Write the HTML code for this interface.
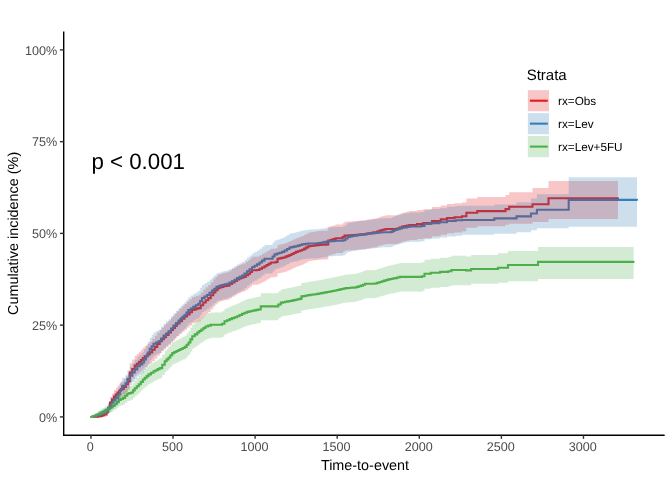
<!DOCTYPE html>
<html lang="en"><head><meta charset="utf-8"><title>Cumulative incidence</title>
<style>
html,body{margin:0;padding:0;background:#fff}
body{width:672px;height:480px;position:relative;overflow:hidden;font-family:"Liberation Sans",sans-serif}
svg text{font-family:"Liberation Sans",sans-serif;text-rendering:geometricPrecision}
.tk{font-size:12.6px;fill:#4D4D4D}
.ti{font-size:14.4px;fill:#000}
.lt{font-size:15px;fill:#000}
.lg{font-size:11.73px;fill:#000}
.pv{font-size:22.3px;fill:#000}
</style></head><body>
<svg width="672" height="480" viewBox="0 0 672 480" style="position:absolute;left:0;top:0;will-change:transform">
<path d="M91.50 416.90 L93.75 416.90 L93.75 416.75 L96.00 416.75 L96.00 416.60 L98.25 416.60 L98.25 416.30 L100.50 416.30 L100.50 416.00 L102.25 416.00 L102.25 415.25 L104.00 415.25 L104.00 414.50 L106.30 414.50 L106.30 412.50 L108.00 412.50 L108.00 408.50 L110.00 408.50 L110.00 402.50 L112.00 402.50 L112.00 399.50 L114.00 399.50 L114.00 396.50 L115.80 396.50 L115.80 394.50 L117.60 394.50 L117.60 392.50 L119.30 392.50 L119.30 390.75 L121.00 390.75 L121.00 389.00 L123.80 389.00 L123.80 387.00 L125.90 387.00 L125.90 384.25 L128.00 384.25 L128.00 381.50 L129.75 381.50 L129.75 372.50 L132.25 372.50 L132.25 369.05 L134.75 369.05 L134.75 365.60 L136.83 365.60 L136.83 363.73 L138.92 363.73 L138.92 361.87 L141.00 361.87 L141.00 360.00 L142.88 360.00 L142.88 358.12 L144.75 358.12 L144.75 356.25 L147.25 356.25 L147.25 354.38 L149.75 354.38 L149.75 352.50 L152.25 352.50 L152.25 349.70 L154.75 349.70 L154.75 346.90 L157.25 346.90 L157.25 344.07 L159.75 344.07 L159.75 341.25 L161.83 341.25 L161.83 339.17 L163.92 339.17 L163.92 337.08 L166.00 337.08 L166.00 335.00 L168.50 335.00 L168.50 332.50 L171.00 332.50 L171.00 330.00 L173.00 330.00 L173.00 327.83 L175.00 327.83 L175.00 325.67 L177.00 325.67 L177.00 323.50 L179.50 323.50 L179.50 321.12 L182.00 321.12 L182.00 318.75 L184.50 318.75 L184.50 316.57 L187.00 316.57 L187.00 314.40 L189.50 314.40 L189.50 312.20 L192.00 312.20 L192.00 310.00 L194.08 310.00 L194.08 309.37 L196.17 309.37 L196.17 308.73 L198.25 308.73 L198.25 308.10 L200.75 308.10 L200.75 305.30 L203.25 305.30 L203.25 302.50 L205.75 302.50 L205.75 300.30 L208.25 300.30 L208.25 298.10 L210.75 298.10 L210.75 295.30 L213.25 295.30 L213.25 292.50 L215.43 292.50 L215.43 290.30 L217.60 290.30 L217.60 288.10 L219.48 288.10 L219.48 287.48 L221.37 287.48 L221.37 286.87 L223.25 286.87 L223.25 286.25 L225.12 286.25 L225.12 285.93 L227.00 285.93 L227.00 285.60 L229.50 285.60 L229.50 284.05 L232.00 284.05 L232.00 282.50 L234.50 282.50 L234.50 280.95 L237.00 280.95 L237.00 279.40 L239.08 279.40 L239.08 278.57 L241.17 278.57 L241.17 277.73 L243.25 277.73 L243.25 276.90 L245.75 276.90 L245.75 275.32 L248.25 275.32 L248.25 273.75 L250.12 273.75 L250.12 272.02 L252.00 272.02 L252.00 270.30 L257.00 270.30 L257.00 270.00 L259.50 270.00 L259.50 268.75 L262.00 268.75 L262.00 267.50 L264.50 267.50 L264.50 266.25 L266.58 266.25 L266.58 265.00 L268.67 265.00 L268.67 263.75 L270.75 263.75 L270.75 262.50 L275.75 262.50 L275.75 261.90 L277.60 261.90 L277.60 258.75 L279.48 258.75 L279.48 258.33 L281.37 258.33 L281.37 257.92 L283.25 257.92 L283.25 257.50 L285.33 257.50 L285.33 256.67 L287.42 256.67 L287.42 255.83 L289.50 255.83 L289.50 255.00 L291.58 255.00 L291.58 253.97 L293.67 253.97 L293.67 252.93 L295.75 252.93 L295.75 251.90 L297.83 251.90 L297.83 251.18 L299.92 251.18 L299.92 250.47 L302.00 250.47 L302.00 249.75 L304.08 249.75 L304.08 248.58 L306.17 248.58 L306.17 247.42 L308.25 247.42 L308.25 246.25 L310.33 246.25 L310.33 245.97 L312.42 245.97 L312.42 245.68 L314.50 245.68 L314.50 245.40 L316.58 245.40 L316.58 245.13 L318.67 245.13 L318.67 244.87 L320.75 244.87 L320.75 244.60 L326.40 244.60 L326.40 244.40 L328.25 244.40 L328.25 240.60 L330.75 240.60 L330.75 239.80 L333.25 239.80 L333.25 239.00 L335.75 239.00 L335.75 238.20 L340.75 238.20 L340.75 238.30 L342.62 238.30 L342.62 236.95 L344.50 236.95 L344.50 235.60 L346.50 235.60 L346.50 235.48 L348.50 235.48 L348.50 235.36 L350.50 235.36 L350.50 235.24 L352.50 235.24 L352.50 235.12 L354.50 235.12 L354.50 235.00 L356.50 235.00 L356.50 234.80 L358.50 234.80 L358.50 234.60 L360.50 234.60 L360.50 234.40 L362.50 234.40 L362.50 234.20 L364.50 234.20 L364.50 234.00 L366.50 234.00 L366.50 233.65 L368.50 233.65 L368.50 233.30 L370.50 233.30 L370.50 232.95 L372.50 232.95 L372.50 232.60 L374.50 232.60 L374.50 232.25 L377.00 232.25 L377.00 231.43 L379.50 231.43 L379.50 230.60 L381.58 230.60 L381.58 230.07 L383.67 230.07 L383.67 229.53 L385.75 229.53 L385.75 229.00 L397.00 229.00 L397.00 228.50 L399.50 228.50 L399.50 227.50 L402.00 227.50 L402.00 226.50 L404.50 226.50 L404.50 226.00 L407.00 226.00 L407.00 225.50 L409.50 225.50 L409.50 225.00 L417.00 225.00 L417.00 224.00 L423.25 224.00 L423.25 223.10 L432.00 223.10 L432.00 221.00 L440.75 221.00 L440.75 219.40 L447.00 219.40 L447.00 218.10 L454.50 218.10 L454.50 217.25 L462.00 217.25 L462.00 216.25 L466.40 216.25 L466.40 212.75 L477.25 212.75 L477.25 211.10 L505.50 211.10 L505.50 209.10 L509.20 209.10 L509.20 206.75 L532.50 206.75 L532.50 204.30 L548.50 204.30 L548.50 198.20 L618.00 198.20 L618.00 198.20" fill="none" stroke="#E41A1C" stroke-width="2.10" stroke-linejoin="miter" stroke-linecap="round"/>
<path d="M91.50 416.90 L93.67 416.90 L93.67 416.27 L95.83 416.27 L95.83 415.63 L98.00 415.63 L98.00 415.00 L100.23 415.00 L100.23 413.90 L102.47 413.90 L102.47 412.80 L104.70 412.80 L104.70 411.70 L108.00 411.70 L108.00 407.50 L111.30 407.50 L111.30 402.50 L113.40 402.50 L113.40 400.20 L115.50 400.20 L115.50 397.90 L118.40 397.90 L118.40 394.20 L120.00 394.20 L120.00 390.00 L122.20 390.00 L122.20 385.80 L125.50 385.80 L125.50 383.30 L127.40 383.30 L127.40 379.00 L129.82 379.00 L129.82 375.75 L132.25 375.75 L132.25 372.50 L134.75 372.50 L134.75 369.38 L137.25 369.38 L137.25 366.25 L139.75 366.25 L139.75 364.38 L142.25 364.38 L142.25 362.50 L144.12 362.50 L144.12 359.38 L146.00 359.38 L146.00 356.25 L147.88 356.25 L147.88 352.50 L149.75 352.50 L149.75 348.75 L151.62 348.75 L151.62 346.25 L153.50 346.25 L153.50 343.75 L156.00 343.75 L156.00 342.50 L158.50 342.50 L158.50 341.25 L161.00 341.25 L161.00 338.43 L163.50 338.43 L163.50 335.60 L166.00 335.60 L166.00 333.43 L168.50 333.43 L168.50 331.25 L171.00 331.25 L171.00 328.43 L173.50 328.43 L173.50 325.60 L176.00 325.60 L176.00 323.05 L178.50 323.05 L178.50 320.50 L180.50 320.50 L180.50 318.67 L182.50 318.67 L182.50 316.83 L184.50 316.83 L184.50 315.00 L186.38 315.00 L186.38 312.50 L188.25 312.50 L188.25 310.00 L190.75 310.00 L190.75 308.45 L193.25 308.45 L193.25 306.90 L195.75 306.90 L195.75 305.32 L198.25 305.32 L198.25 303.75 L200.12 303.75 L200.12 300.93 L202.00 300.93 L202.00 298.10 L204.50 298.10 L204.50 296.55 L207.00 296.55 L207.00 295.00 L209.50 295.00 L209.50 292.80 L212.00 292.80 L212.00 290.60 L214.20 290.60 L214.20 288.75 L216.40 288.75 L216.40 286.90 L218.27 286.90 L218.27 286.27 L220.13 286.27 L220.13 285.63 L222.00 285.63 L222.00 285.00 L224.50 285.00 L224.50 284.38 L227.00 284.38 L227.00 283.75 L229.50 283.75 L229.50 282.50 L232.00 282.50 L232.00 281.25 L234.50 281.25 L234.50 279.68 L237.00 279.68 L237.00 278.10 L239.50 278.10 L239.50 276.85 L242.00 276.85 L242.00 275.60 L244.50 275.60 L244.50 273.43 L247.00 273.43 L247.00 271.25 L249.50 271.25 L249.50 269.23 L252.00 269.23 L252.00 267.20 L254.50 267.20 L254.50 265.80 L257.00 265.80 L257.00 264.40 L259.50 264.40 L259.50 262.52 L262.00 262.52 L262.00 260.63 L264.50 260.63 L264.50 258.75 L270.75 258.75 L270.75 258.75 L272.62 258.75 L272.62 256.57 L274.50 256.57 L274.50 254.40 L277.00 254.40 L277.00 253.57 L279.50 253.57 L279.50 252.73 L282.00 252.73 L282.00 251.90 L284.50 251.90 L284.50 250.43 L287.00 250.43 L287.00 248.97 L289.50 248.97 L289.50 247.50 L291.58 247.50 L291.58 247.08 L293.67 247.08 L293.67 246.67 L295.75 246.67 L295.75 246.25 L297.83 246.25 L297.83 245.63 L299.92 245.63 L299.92 245.02 L302.00 245.02 L302.00 244.40 L304.08 244.40 L304.08 244.10 L306.17 244.10 L306.17 243.80 L308.25 243.80 L308.25 243.50 L314.50 243.50 L314.50 243.50 L316.58 243.50 L316.58 243.25 L318.67 243.25 L318.67 243.00 L320.75 243.00 L320.75 242.75 L322.83 242.75 L322.83 242.33 L324.92 242.33 L324.92 241.92 L327.00 241.92 L327.00 241.50 L329.19 241.50 L329.19 241.32 L331.38 241.32 L331.38 241.15 L333.56 241.15 L333.56 240.98 L335.75 240.98 L335.75 240.80 L343.25 240.80 L343.25 240.25 L345.43 240.25 L345.43 238.57 L347.60 238.57 L347.60 236.90 L349.95 236.90 L349.95 236.49 L352.30 236.49 L352.30 236.07 L354.65 236.07 L354.65 235.66 L357.00 235.66 L357.00 235.25 L359.50 235.25 L359.50 234.97 L362.00 234.97 L362.00 234.68 L364.50 234.68 L364.50 234.40 L366.69 234.40 L366.69 234.07 L368.88 234.07 L368.88 233.75 L371.06 233.75 L371.06 233.43 L373.25 233.43 L373.25 233.10 L375.44 233.10 L375.44 232.89 L377.62 232.89 L377.62 232.68 L379.81 232.68 L379.81 232.46 L382.00 232.46 L382.00 232.25 L390.75 232.25 L390.75 231.90 L392.62 231.90 L392.62 230.95 L394.50 230.95 L394.50 230.00 L397.00 230.00 L397.00 229.25 L399.50 229.25 L399.50 228.50 L402.00 228.50 L402.00 227.75 L404.50 227.75 L404.50 227.33 L407.00 227.33 L407.00 226.92 L409.50 226.92 L409.50 226.50 L420.75 226.50 L420.75 226.00 L424.50 226.00 L424.50 224.00 L430.75 224.00 L430.75 223.10 L439.50 223.10 L439.50 222.25 L447.00 222.25 L447.00 221.00 L455.75 221.00 L455.75 220.25 L462.00 220.25 L462.00 220.00 L494.30 220.00 L494.30 218.40 L516.50 218.40 L516.50 216.40 L531.00 216.40 L531.00 213.50 L536.90 213.50 L536.90 209.80 L568.70 209.80 L568.70 199.85 L637.00 199.85 L637.00 199.85" fill="none" stroke="#377EB8" stroke-width="2.10" stroke-linejoin="miter" stroke-linecap="round"/>
<path d="M91.50 416.90 L93.67 416.90 L93.67 415.85 L95.83 415.85 L95.83 414.80 L98.00 414.80 L98.00 413.75 L100.23 413.75 L100.23 412.63 L102.47 412.63 L102.47 411.52 L104.70 411.52 L104.70 410.40 L106.63 410.40 L106.63 409.43 L108.57 409.43 L108.57 408.47 L110.50 408.47 L110.50 407.50 L112.60 407.50 L112.60 405.85 L114.70 405.85 L114.70 404.20 L116.75 404.20 L116.75 402.10 L118.80 402.10 L118.80 400.00 L120.90 400.00 L120.90 398.95 L123.00 398.95 L123.00 397.90 L125.10 397.90 L125.10 395.82 L127.20 395.82 L127.20 393.75 L129.25 393.75 L129.25 393.12 L131.30 393.12 L131.30 392.50 L133.00 392.50 L133.00 390.40 L134.70 390.40 L134.70 388.30 L136.75 388.30 L136.75 386.25 L138.80 386.25 L138.80 384.20 L140.85 384.20 L140.85 381.85 L142.90 381.85 L142.90 379.50 L144.77 379.50 L144.77 377.80 L146.63 377.80 L146.63 376.10 L148.50 376.10 L148.50 374.40 L151.00 374.40 L151.00 372.82 L153.50 372.82 L153.50 371.25 L155.58 371.25 L155.58 370.20 L157.67 370.20 L157.67 369.15 L159.75 369.15 L159.75 368.10 L162.25 368.10 L162.25 364.68 L164.75 364.68 L164.75 361.25 L166.62 361.25 L166.62 359.38 L168.50 359.38 L168.50 357.50 L170.38 357.50 L170.38 355.30 L172.25 355.30 L172.25 353.10 L174.33 353.10 L174.33 352.07 L176.42 352.07 L176.42 351.03 L178.50 351.03 L178.50 350.00 L180.58 350.00 L180.58 348.97 L182.67 348.97 L182.67 347.93 L184.75 347.93 L184.75 346.90 L186.62 346.90 L186.62 344.70 L188.50 344.70 L188.50 342.50 L190.38 342.50 L190.38 339.38 L192.25 339.38 L192.25 336.25 L194.75 336.25 L194.75 334.38 L197.25 334.38 L197.25 332.50 L199.31 332.50 L199.31 331.00 L201.38 331.00 L201.38 329.50 L203.44 329.50 L203.44 328.00 L205.50 328.00 L205.50 326.50 L208.12 326.50 L208.12 325.62 L210.75 325.62 L210.75 324.75 L222.00 324.75 L222.00 323.75 L224.50 323.75 L224.50 321.25 L227.00 321.25 L227.00 320.20 L229.50 320.20 L229.50 319.15 L232.00 319.15 L232.00 318.10 L234.50 318.10 L234.50 317.18 L237.00 317.18 L237.00 316.25 L239.50 316.25 L239.50 315.00 L242.00 315.00 L242.00 313.75 L244.50 313.75 L244.50 312.82 L247.00 312.82 L247.00 311.90 L249.50 311.90 L249.50 311.32 L252.00 311.32 L252.00 310.75 L254.08 310.75 L254.08 310.33 L256.17 310.33 L256.17 309.92 L258.25 309.92 L258.25 309.50 L260.75 309.50 L260.75 306.40 L275.75 306.40 L275.75 306.40 L278.25 306.40 L278.25 304.50 L280.75 304.50 L280.75 302.60 L282.94 302.60 L282.94 302.20 L285.12 302.20 L285.12 301.80 L287.31 301.80 L287.31 301.40 L289.50 301.40 L289.50 301.00 L291.50 301.00 L291.50 300.58 L293.50 300.58 L293.50 300.16 L295.50 300.16 L295.50 299.74 L297.50 299.74 L297.50 299.32 L299.50 299.32 L299.50 298.90 L301.40 298.90 L301.40 296.40 L303.68 296.40 L303.68 295.97 L305.97 295.97 L305.97 295.53 L308.25 295.53 L308.25 295.10 L310.44 295.10 L310.44 294.80 L312.62 294.80 L312.62 294.50 L314.81 294.50 L314.81 294.20 L317.00 294.20 L317.00 293.90 L319.00 293.90 L319.00 293.52 L321.00 293.52 L321.00 293.14 L323.00 293.14 L323.00 292.76 L325.00 292.76 L325.00 292.38 L327.00 292.38 L327.00 292.00 L329.50 292.00 L329.50 291.50 L332.00 291.50 L332.00 291.00 L334.50 291.00 L334.50 290.47 L337.00 290.47 L337.00 289.93 L339.50 289.93 L339.50 289.40 L341.58 289.40 L341.58 288.97 L343.67 288.97 L343.67 288.53 L345.75 288.53 L345.75 288.10 L347.94 288.10 L347.94 287.95 L350.12 287.95 L350.12 287.80 L352.31 287.80 L352.31 287.65 L354.50 287.65 L354.50 287.50 L356.58 287.50 L356.58 286.87 L358.67 286.87 L358.67 286.23 L360.75 286.23 L360.75 285.60 L362.93 285.60 L362.93 284.68 L365.10 284.68 L365.10 283.75 L374.50 283.75 L374.50 283.50 L377.00 283.50 L377.00 282.75 L379.50 282.75 L379.50 282.00 L382.00 282.00 L382.00 281.25 L384.08 281.25 L384.08 280.63 L386.17 280.63 L386.17 280.02 L388.25 280.02 L388.25 279.40 L390.33 279.40 L390.33 278.97 L392.42 278.97 L392.42 278.53 L394.50 278.53 L394.50 278.10 L397.00 278.10 L397.00 277.50 L399.50 277.50 L399.50 276.90 L418.25 276.90 L418.25 276.90 L422.00 276.90 L422.00 276.25 L424.50 276.25 L424.50 273.75 L430.75 273.75 L430.75 272.75 L440.00 272.75 L440.00 271.90 L448.25 271.90 L448.25 271.25 L451.40 271.25 L451.40 270.00 L466.00 270.00 L466.00 270.40 L471.10 270.40 L471.10 269.00 L498.00 269.00 L498.00 267.75 L508.00 267.75 L508.00 265.00 L538.00 265.00 L538.00 261.90 L633.60 261.90 L633.60 261.90" fill="none" stroke="#4DAF4A" stroke-width="2.10" stroke-linejoin="miter" stroke-linecap="round"/>
<path d="M91.50 416.90 L93.75 416.90 L93.75 416.34 L96.00 416.34 L96.00 415.78 L98.25 415.78 L98.25 415.18 L100.50 415.18 L100.50 414.59 L102.25 414.59 L102.25 413.39 L104.00 413.39 L104.00 412.20 L106.30 412.20 L106.30 409.39 L108.00 409.39 L108.00 404.24 L110.00 404.24 L110.00 396.98 L112.00 396.98 L112.00 393.49 L114.00 393.49 L114.00 390.00 L115.80 390.00 L115.80 387.71 L117.60 387.71 L117.60 385.43 L119.30 385.43 L119.30 383.46 L121.00 383.46 L121.00 381.49 L123.80 381.49 L123.80 379.25 L125.90 379.25 L125.90 376.20 L128.00 376.20 L128.00 373.15 L129.75 373.15 L129.75 363.29 L132.25 363.29 L132.25 359.55 L134.75 359.55 L134.75 355.82 L136.83 355.82 L136.83 353.81 L138.92 353.81 L138.92 351.80 L141.00 351.80 L141.00 349.80 L142.88 349.80 L142.88 347.79 L144.75 347.79 L144.75 345.79 L147.25 345.79 L147.25 343.79 L149.75 343.79 L149.75 341.79 L152.25 341.79 L152.25 338.82 L154.75 338.82 L154.75 335.85 L157.25 335.85 L157.25 332.87 L159.75 332.87 L159.75 329.88 L161.83 329.88 L161.83 327.69 L163.92 327.69 L163.92 325.50 L166.00 325.50 L166.00 323.31 L168.50 323.31 L168.50 320.70 L171.00 320.70 L171.00 318.08 L173.00 318.08 L173.00 315.82 L175.00 315.82 L175.00 313.56 L177.00 313.56 L177.00 311.30 L179.50 311.30 L179.50 308.83 L182.00 308.83 L182.00 306.36 L184.50 306.36 L184.50 304.10 L187.00 304.10 L187.00 301.85 L189.50 301.85 L189.50 299.57 L192.00 299.57 L192.00 297.30 L194.08 297.30 L194.08 296.65 L196.17 296.65 L196.17 295.99 L198.25 295.99 L198.25 295.34 L200.75 295.34 L200.75 292.45 L203.25 292.45 L203.25 289.57 L205.75 289.57 L205.75 287.31 L208.25 287.31 L208.25 285.05 L210.75 285.05 L210.75 282.18 L213.25 282.18 L213.25 279.31 L215.43 279.31 L215.43 277.06 L217.60 277.06 L217.60 274.81 L219.48 274.81 L219.48 274.18 L221.37 274.18 L221.37 273.55 L223.25 273.55 L223.25 272.92 L225.12 272.92 L225.12 272.59 L227.00 272.59 L227.00 272.26 L229.50 272.26 L229.50 270.68 L232.00 270.68 L232.00 269.10 L234.50 269.10 L234.50 267.52 L237.00 267.52 L237.00 265.94 L239.08 265.94 L239.08 265.09 L241.17 265.09 L241.17 264.24 L243.25 264.24 L243.25 263.40 L245.75 263.40 L245.75 261.80 L248.25 261.80 L248.25 260.20 L250.12 260.20 L250.12 258.45 L252.00 258.45 L252.00 256.70 L257.00 256.70 L257.00 256.40 L259.50 256.40 L259.50 255.13 L262.00 255.13 L262.00 253.87 L264.50 253.87 L264.50 252.60 L266.58 252.60 L266.58 251.34 L268.67 251.34 L268.67 250.08 L270.75 250.08 L270.75 248.81 L275.75 248.81 L275.75 248.21 L277.60 248.21 L277.60 245.03 L279.48 245.03 L279.48 244.61 L281.37 244.61 L281.37 244.19 L283.25 244.19 L283.25 243.77 L285.33 243.77 L285.33 242.93 L287.42 242.93 L287.42 242.09 L289.50 242.09 L289.50 241.25 L291.58 241.25 L291.58 240.21 L293.67 240.21 L293.67 239.17 L295.75 239.17 L295.75 238.14 L297.83 238.14 L297.83 237.42 L299.92 237.42 L299.92 236.70 L302.00 236.70 L302.00 235.98 L304.08 235.98 L304.08 234.80 L306.17 234.80 L306.17 233.63 L308.25 233.63 L308.25 232.46 L310.33 232.46 L310.33 232.18 L312.42 232.18 L312.42 231.90 L314.50 231.90 L314.50 231.61 L316.58 231.61 L316.58 231.34 L318.67 231.34 L318.67 231.08 L320.75 231.08 L320.75 230.81 L326.40 230.81 L326.40 230.61 L328.25 230.61 L328.25 226.81 L330.75 226.81 L330.75 226.01 L333.25 226.01 L333.25 225.21 L335.75 225.21 L335.75 224.41 L340.75 224.41 L340.75 224.51 L342.62 224.51 L342.62 223.16 L344.50 223.16 L344.50 221.81 L346.50 221.81 L346.50 221.69 L348.50 221.69 L348.50 221.57 L350.50 221.57 L350.50 221.45 L352.50 221.45 L352.50 221.33 L354.50 221.33 L354.50 221.21 L356.50 221.21 L356.50 221.01 L358.50 221.01 L358.50 220.81 L360.50 220.81 L360.50 220.61 L362.50 220.61 L362.50 220.41 L364.50 220.41 L364.50 220.21 L366.50 220.21 L366.50 219.87 L368.50 219.87 L368.50 219.52 L370.50 219.52 L370.50 219.17 L372.50 219.17 L372.50 218.82 L374.50 218.82 L374.50 218.47 L377.00 218.47 L377.00 217.65 L379.50 217.65 L379.50 216.83 L381.58 216.83 L381.58 216.29 L383.67 216.29 L383.67 215.75 L385.75 215.75 L385.75 215.20 L397.00 215.20 L397.00 214.65 L399.50 214.65 L399.50 213.65 L402.00 213.65 L402.00 212.64 L404.50 212.64 L404.50 212.13 L407.00 212.13 L407.00 211.62 L409.50 211.62 L409.50 211.11 L417.00 211.11 L417.00 210.08 L423.25 210.08 L423.25 209.16 L432.00 209.16 L432.00 207.03 L440.75 207.03 L440.75 205.40 L447.00 205.40 L447.00 204.09 L454.50 204.09 L454.50 203.21 L462.00 203.21 L462.00 202.55 L466.40 202.55 L466.40 198.55 L477.25 198.55 L477.25 197.10 L505.50 197.10 L505.50 195.00 L509.20 195.00 L509.20 192.25 L532.50 192.25 L532.50 188.00 L548.50 188.00 L548.50 181.00 L618.00 181.00 L618.00 181.00 L618.00 219.00 L618.00 219.00 L548.50 219.00 L548.50 221.90 L532.50 221.90 L532.50 223.85 L509.20 223.85 L509.20 224.70 L505.50 224.70 L505.50 226.30 L477.25 226.30 L477.25 227.65 L466.40 227.65 L466.40 231.15 L462.00 231.15 L462.00 232.54 L454.50 232.54 L454.50 233.36 L447.00 233.36 L447.00 234.63 L440.75 234.63 L440.75 236.18 L432.00 236.18 L432.00 238.24 L423.25 238.24 L423.25 239.11 L417.00 239.11 L417.00 240.07 L409.50 240.07 L409.50 240.56 L407.00 240.56 L407.00 241.04 L404.50 241.04 L404.50 241.53 L402.00 241.53 L402.00 242.52 L399.50 242.52 L399.50 243.50 L397.00 243.50 L397.00 243.94 L385.75 243.94 L385.75 244.47 L383.67 244.47 L383.67 244.99 L381.58 244.99 L381.58 245.51 L379.50 245.51 L379.50 246.33 L377.00 246.33 L377.00 247.16 L374.50 247.16 L374.50 247.51 L372.50 247.51 L372.50 247.85 L370.50 247.85 L370.50 248.20 L368.50 248.20 L368.50 248.55 L366.50 248.55 L366.50 248.90 L364.50 248.90 L364.50 249.10 L362.50 249.10 L362.50 249.30 L360.50 249.30 L360.50 249.50 L358.50 249.50 L358.50 249.70 L356.50 249.70 L356.50 249.90 L354.50 249.90 L354.50 250.02 L352.50 250.02 L352.50 250.14 L350.50 250.14 L350.50 250.26 L348.50 250.26 L348.50 250.38 L346.50 250.38 L346.50 250.50 L344.50 250.50 L344.50 251.84 L342.62 251.84 L342.62 253.18 L340.75 253.18 L340.75 253.08 L335.75 253.08 L335.75 253.88 L333.25 253.88 L333.25 254.67 L330.75 254.67 L330.75 255.47 L328.25 255.47 L328.25 259.24 L326.40 259.24 L326.40 259.44 L320.75 259.44 L320.75 259.71 L318.67 259.71 L318.67 259.97 L316.58 259.97 L316.58 260.23 L314.50 260.23 L314.50 260.52 L312.42 260.52 L312.42 260.80 L310.33 260.80 L310.33 261.08 L308.25 261.08 L308.25 262.23 L306.17 262.23 L306.17 263.39 L304.08 263.39 L304.08 264.54 L302.00 264.54 L302.00 265.25 L299.92 265.25 L299.92 265.96 L297.83 265.96 L297.83 266.67 L295.75 266.67 L295.75 267.69 L293.67 267.69 L293.67 268.71 L291.58 268.71 L291.58 269.73 L289.50 269.73 L289.50 270.56 L287.42 270.56 L287.42 271.38 L285.33 271.38 L285.33 272.20 L283.25 272.20 L283.25 272.61 L281.37 272.61 L281.37 273.02 L279.48 273.02 L279.48 273.44 L277.60 273.44 L277.60 276.54 L275.75 276.54 L275.75 277.13 L270.75 277.13 L270.75 278.36 L268.67 278.36 L268.67 279.59 L266.58 279.59 L266.58 280.82 L264.50 280.82 L264.50 282.04 L262.00 282.04 L262.00 283.27 L259.50 283.27 L259.50 284.50 L257.00 284.50 L257.00 284.79 L252.00 284.79 L252.00 286.48 L250.12 286.48 L250.12 288.17 L248.25 288.17 L248.25 289.72 L245.75 289.72 L245.75 291.26 L243.25 291.26 L243.25 292.07 L241.17 292.07 L241.17 292.89 L239.08 292.89 L239.08 293.70 L237.00 293.70 L237.00 295.21 L234.50 295.21 L234.50 296.72 L232.00 296.72 L232.00 298.24 L229.50 298.24 L229.50 299.75 L227.00 299.75 L227.00 300.06 L225.12 300.06 L225.12 300.38 L223.25 300.38 L223.25 300.98 L221.37 300.98 L221.37 301.58 L219.48 301.58 L219.48 302.18 L217.60 302.18 L217.60 304.32 L215.43 304.32 L215.43 306.45 L213.25 306.45 L213.25 309.16 L210.75 309.16 L210.75 311.88 L208.25 311.88 L208.25 314.00 L205.75 314.00 L205.75 316.13 L203.25 316.13 L203.25 318.83 L200.75 318.83 L200.75 321.53 L198.25 321.53 L198.25 322.13 L196.17 322.13 L196.17 322.74 L194.08 322.74 L194.08 323.35 L192.00 323.35 L192.00 325.46 L189.50 325.46 L189.50 327.58 L187.00 327.58 L187.00 329.66 L184.50 329.66 L184.50 331.74 L182.00 331.74 L182.00 334.01 L179.50 334.01 L179.50 336.27 L177.00 336.27 L177.00 338.33 L175.00 338.33 L175.00 340.39 L173.00 340.39 L173.00 342.45 L171.00 342.45 L171.00 344.82 L168.50 344.82 L168.50 347.19 L166.00 347.19 L166.00 349.15 L163.92 349.15 L163.92 351.11 L161.83 351.11 L161.83 353.08 L159.75 353.08 L159.75 355.73 L157.25 355.73 L157.25 358.38 L154.75 358.38 L154.75 360.99 L152.25 360.99 L152.25 363.60 L149.75 363.60 L149.75 365.34 L147.25 365.34 L147.25 367.08 L144.75 367.08 L144.75 368.81 L142.88 368.81 L142.88 370.55 L141.00 370.55 L141.00 372.26 L138.92 372.26 L138.92 373.98 L136.83 373.98 L136.83 375.70 L134.75 375.70 L134.75 378.84 L132.25 378.84 L132.25 381.98 L129.75 381.98 L129.75 390.07 L128.00 390.07 L128.00 392.50 L125.90 392.50 L125.90 394.93 L123.80 394.93 L123.80 396.68 L121.00 396.68 L121.00 398.20 L119.30 398.20 L119.30 399.71 L117.60 399.71 L117.60 401.42 L115.80 401.42 L115.80 403.13 L114.00 403.13 L114.00 405.62 L112.00 405.62 L112.00 408.11 L110.00 408.11 L110.00 412.81 L108.00 412.81 L108.00 415.63 L106.30 415.63 L106.30 416.82 L104.00 416.82 L104.00 417.12 L102.25 417.12 L102.25 417.42 L100.50 417.42 L100.50 417.42 L98.25 417.42 L98.25 417.42 L96.00 417.42 L96.00 417.16 L93.75 417.16 L93.75 416.90 L91.50 416.90 Z" fill="#E41A1C" fill-opacity="0.25" stroke="none"/>
<path d="M91.50 416.90 L93.67 416.90 L93.67 415.58 L95.83 415.58 L95.83 414.26 L98.00 414.26 L98.00 412.93 L100.23 412.93 L100.23 411.39 L102.47 411.39 L102.47 409.85 L104.70 409.85 L104.70 408.30 L108.00 408.30 L108.00 402.97 L111.30 402.97 L111.30 396.94 L113.40 396.94 L113.40 394.25 L115.50 394.25 L115.50 391.56 L118.40 391.56 L118.40 387.31 L120.00 387.31 L120.00 382.55 L122.20 382.55 L122.20 377.85 L125.50 377.85 L125.50 375.07 L127.40 375.07 L127.40 370.33 L129.82 370.33 L129.82 366.77 L132.25 366.77 L132.25 363.22 L134.75 363.22 L134.75 359.83 L137.25 359.83 L137.25 356.44 L139.75 356.44 L139.75 354.42 L142.25 354.42 L142.25 352.40 L144.12 352.40 L144.12 349.05 L146.00 349.05 L146.00 345.71 L147.88 345.71 L147.88 341.72 L149.75 341.72 L149.75 337.72 L151.62 337.72 L151.62 335.08 L153.50 335.08 L153.50 332.43 L156.00 332.43 L156.00 331.11 L158.50 331.11 L158.50 329.80 L161.00 329.80 L161.00 326.82 L163.50 326.82 L163.50 323.85 L166.00 323.85 L166.00 321.57 L168.50 321.57 L168.50 319.29 L171.00 319.29 L171.00 316.34 L173.50 316.34 L173.50 313.39 L176.00 313.39 L176.00 310.74 L178.50 310.74 L178.50 308.08 L180.50 308.08 L180.50 306.18 L182.50 306.18 L182.50 304.28 L184.50 304.28 L184.50 302.37 L186.38 302.37 L186.38 299.79 L188.25 299.79 L188.25 297.20 L190.75 297.20 L190.75 295.60 L193.25 295.60 L193.25 294.00 L195.75 294.00 L195.75 292.38 L198.25 292.38 L198.25 290.75 L200.12 290.75 L200.12 287.85 L202.00 287.85 L202.00 284.94 L204.50 284.94 L204.50 283.35 L207.00 283.35 L207.00 281.76 L209.50 281.76 L209.50 279.51 L212.00 279.51 L212.00 277.26 L214.20 277.26 L214.20 275.37 L216.40 275.37 L216.40 273.48 L218.27 273.48 L218.27 272.83 L220.13 272.83 L220.13 272.19 L222.00 272.19 L222.00 271.54 L224.50 271.54 L224.50 270.90 L227.00 270.90 L227.00 270.26 L229.50 270.26 L229.50 268.99 L232.00 268.99 L232.00 267.72 L234.50 267.72 L234.50 266.11 L237.00 266.11 L237.00 264.51 L239.50 264.51 L239.50 263.24 L242.00 263.24 L242.00 261.97 L244.50 261.97 L244.50 259.76 L247.00 259.76 L247.00 257.56 L249.50 257.56 L249.50 255.51 L252.00 255.51 L252.00 253.46 L254.50 253.46 L254.50 252.04 L257.00 252.04 L257.00 250.63 L259.50 250.63 L259.50 248.72 L262.00 248.72 L262.00 246.82 L264.50 246.82 L264.50 244.92 L270.75 244.92 L270.75 244.92 L272.62 244.92 L272.62 242.73 L274.50 242.73 L274.50 240.54 L277.00 240.54 L277.00 239.70 L279.50 239.70 L279.50 238.87 L282.00 238.87 L282.00 238.03 L284.50 238.03 L284.50 236.56 L287.00 236.56 L287.00 235.08 L289.50 235.08 L289.50 233.61 L291.58 233.61 L291.58 233.19 L293.67 233.19 L293.67 232.78 L295.75 232.78 L295.75 232.36 L297.83 232.36 L297.83 231.74 L299.92 231.74 L299.92 231.12 L302.00 231.12 L302.00 230.50 L304.08 230.50 L304.08 230.20 L306.17 230.20 L306.17 229.90 L308.25 229.90 L308.25 229.60 L314.50 229.60 L314.50 229.60 L316.58 229.60 L316.58 229.35 L318.67 229.35 L318.67 229.10 L320.75 229.10 L320.75 228.85 L322.83 228.85 L322.83 228.43 L324.92 228.43 L324.92 228.02 L327.00 228.02 L327.00 227.60 L329.19 227.60 L329.19 227.42 L331.38 227.42 L331.38 227.25 L333.56 227.25 L333.56 227.07 L335.75 227.07 L335.75 226.90 L343.25 226.90 L343.25 226.35 L345.43 226.35 L345.43 224.68 L347.60 224.68 L347.60 223.00 L349.95 223.00 L349.95 222.59 L352.30 222.59 L352.30 222.18 L354.65 222.18 L354.65 221.77 L357.00 221.77 L357.00 221.35 L359.50 221.35 L359.50 221.07 L362.00 221.07 L362.00 220.79 L364.50 220.79 L364.50 220.51 L366.69 220.51 L366.69 220.18 L368.88 220.18 L368.88 219.86 L371.06 219.86 L371.06 219.53 L373.25 219.53 L373.25 219.21 L375.44 219.21 L375.44 219.00 L377.62 219.00 L377.62 218.78 L379.81 218.78 L379.81 218.57 L382.00 218.57 L382.00 218.35 L390.75 218.35 L390.75 217.96 L392.62 217.96 L392.62 217.01 L394.50 217.01 L394.50 216.05 L397.00 216.05 L397.00 215.29 L399.50 215.29 L399.50 214.53 L402.00 214.53 L402.00 213.78 L404.50 213.78 L404.50 213.35 L407.00 213.35 L407.00 212.92 L409.50 212.92 L409.50 212.50 L420.75 212.50 L420.75 211.94 L424.50 211.94 L424.50 209.94 L430.75 209.94 L430.75 209.01 L439.50 209.01 L439.50 208.13 L447.00 208.13 L447.00 206.85 L455.75 206.85 L455.75 206.07 L462.00 206.07 L462.00 205.80 L494.30 205.80 L494.30 204.40 L516.50 204.40 L516.50 202.20 L531.00 202.20 L531.00 198.40 L536.90 198.40 L536.90 194.25 L568.70 194.25 L568.70 177.20 L637.00 177.20 L637.00 177.20 L637.00 226.85 L637.00 226.85 L568.70 226.85 L568.70 228.15 L536.90 228.15 L536.90 230.15 L531.00 230.15 L531.00 232.30 L516.50 232.30 L516.50 233.65 L494.30 233.65 L494.30 234.81 L462.00 234.81 L462.00 235.69 L455.75 235.69 L455.75 236.39 L447.00 236.39 L447.00 237.60 L439.50 237.60 L439.50 238.41 L430.75 238.41 L430.75 239.28 L424.50 239.28 L424.50 241.26 L420.75 241.26 L420.75 241.70 L409.50 241.70 L409.50 242.10 L407.00 242.10 L407.00 242.50 L404.50 242.50 L404.50 242.91 L402.00 242.91 L402.00 243.64 L399.50 243.64 L399.50 244.38 L397.00 244.38 L397.00 245.11 L394.50 245.11 L394.50 246.05 L392.62 246.05 L392.62 246.99 L390.75 246.99 L390.75 247.29 L382.00 247.29 L382.00 247.50 L379.81 247.50 L379.81 247.71 L377.62 247.71 L377.62 247.92 L375.44 247.92 L375.44 248.13 L373.25 248.13 L373.25 248.45 L371.06 248.45 L371.06 248.78 L368.88 248.78 L368.88 249.10 L366.69 249.10 L366.69 249.42 L364.50 249.42 L364.50 249.71 L362.00 249.71 L362.00 249.99 L359.50 249.99 L359.50 250.27 L357.00 250.27 L357.00 250.68 L354.65 250.68 L354.65 251.09 L352.30 251.09 L352.30 251.50 L349.95 251.50 L349.95 251.91 L347.60 251.91 L347.60 253.58 L345.43 253.58 L345.43 255.25 L343.25 255.25 L343.25 255.79 L335.75 255.79 L335.75 255.97 L333.56 255.97 L333.56 256.14 L331.38 256.14 L331.38 256.31 L329.19 256.31 L329.19 256.49 L327.00 256.49 L327.00 256.90 L324.92 256.90 L324.92 257.32 L322.83 257.32 L322.83 257.73 L320.75 257.73 L320.75 257.98 L318.67 257.98 L318.67 258.23 L316.58 258.23 L316.58 258.47 L314.50 258.47 L314.50 258.47 L308.25 258.47 L308.25 258.77 L306.17 258.77 L306.17 259.07 L304.08 259.07 L304.08 259.37 L302.00 259.37 L302.00 259.98 L299.92 259.98 L299.92 260.59 L297.83 260.59 L297.83 261.20 L295.75 261.20 L295.75 261.61 L293.67 261.61 L293.67 262.03 L291.58 262.03 L291.58 262.44 L289.50 262.44 L289.50 263.89 L287.00 263.89 L287.00 265.34 L284.50 265.34 L284.50 266.79 L282.00 266.79 L282.00 267.62 L279.50 267.62 L279.50 268.44 L277.00 268.44 L277.00 269.26 L274.50 269.26 L274.50 271.41 L272.62 271.41 L272.62 273.56 L270.75 273.56 L270.75 273.56 L264.50 273.56 L264.50 275.41 L262.00 275.41 L262.00 277.27 L259.50 277.27 L259.50 279.12 L257.00 279.12 L257.00 280.50 L254.50 280.50 L254.50 281.87 L252.00 281.87 L252.00 283.86 L249.50 283.86 L249.50 285.84 L247.00 285.84 L247.00 287.97 L244.50 287.97 L244.50 290.10 L242.00 290.10 L242.00 291.33 L239.50 291.33 L239.50 292.55 L237.00 292.55 L237.00 294.09 L234.50 294.09 L234.50 295.62 L232.00 295.62 L232.00 296.84 L229.50 296.84 L229.50 298.06 L227.00 298.06 L227.00 298.67 L224.50 298.67 L224.50 299.28 L222.00 299.28 L222.00 299.89 L220.13 299.89 L220.13 300.51 L218.27 300.51 L218.27 301.13 L216.40 301.13 L216.40 302.93 L214.20 302.93 L214.20 304.72 L212.00 304.72 L212.00 306.86 L209.50 306.86 L209.50 308.99 L207.00 308.99 L207.00 310.49 L204.50 310.49 L204.50 311.99 L202.00 311.99 L202.00 314.72 L200.12 314.72 L200.12 317.45 L198.25 317.45 L198.25 318.96 L195.75 318.96 L195.75 320.48 L193.25 320.48 L193.25 321.97 L190.75 321.97 L190.75 323.46 L188.25 323.46 L188.25 325.86 L186.38 325.86 L186.38 328.26 L184.50 328.26 L184.50 330.01 L182.50 330.01 L182.50 331.76 L180.50 331.76 L180.50 333.52 L178.50 333.52 L178.50 335.95 L176.00 335.95 L176.00 338.38 L173.50 338.38 L173.50 341.06 L171.00 341.06 L171.00 343.74 L168.50 343.74 L168.50 345.80 L166.00 345.80 L166.00 347.85 L163.50 347.85 L163.50 350.51 L161.00 350.51 L161.00 353.17 L158.50 353.17 L158.50 354.35 L156.00 354.35 L156.00 355.52 L153.50 355.52 L153.50 357.86 L151.62 357.86 L151.62 360.20 L149.75 360.20 L149.75 363.68 L147.88 363.68 L147.88 367.17 L146.00 367.17 L146.00 370.05 L144.12 370.05 L144.12 372.94 L142.25 372.94 L142.25 374.65 L139.75 374.65 L139.75 376.37 L137.25 376.37 L137.25 379.22 L134.75 379.22 L134.75 382.06 L132.25 382.06 L132.25 384.98 L129.82 384.98 L129.82 387.91 L127.40 387.91 L127.40 391.74 L125.50 391.74 L125.50 393.94 L122.20 393.94 L122.20 397.61 L120.00 397.61 L120.00 401.23 L118.40 401.23 L118.40 404.36 L115.50 404.36 L115.50 406.26 L113.40 406.26 L113.40 408.15 L111.30 408.15 L111.30 412.09 L108.00 412.09 L108.00 415.13 L104.70 415.13 L104.70 415.78 L102.47 415.78 L102.47 416.43 L100.23 416.43 L100.23 417.08 L98.00 417.08 L98.00 417.02 L95.83 417.02 L95.83 416.96 L93.67 416.96 L93.67 416.90 L91.50 416.90 Z" fill="#377EB8" fill-opacity="0.25" stroke="none"/>
<path d="M91.50 416.90 L93.67 416.90 L93.67 414.96 L95.83 414.96 L95.83 413.01 L98.00 413.01 L98.00 411.07 L100.23 411.07 L100.23 409.57 L102.47 409.57 L102.47 408.07 L104.70 408.07 L104.70 406.57 L106.63 406.57 L106.63 405.36 L108.57 405.36 L108.57 404.14 L110.50 404.14 L110.50 402.92 L112.60 402.92 L112.60 400.91 L114.70 400.91 L114.70 398.91 L116.75 398.91 L116.75 396.42 L118.80 396.42 L118.80 393.94 L120.90 393.94 L120.90 392.72 L123.00 392.72 L123.00 391.50 L125.10 391.50 L125.10 389.11 L127.20 389.11 L127.20 386.73 L129.25 386.73 L129.25 386.02 L131.30 386.02 L131.30 385.31 L133.00 385.31 L133.00 382.94 L134.70 382.94 L134.70 380.57 L136.75 380.57 L136.75 378.28 L138.80 378.28 L138.80 375.99 L140.85 375.99 L140.85 373.39 L142.90 373.39 L142.90 370.79 L144.77 370.79 L144.77 368.93 L146.63 368.93 L146.63 367.06 L148.50 367.06 L148.50 365.20 L151.00 365.20 L151.00 363.48 L153.50 363.48 L153.50 361.77 L155.58 361.77 L155.58 360.63 L157.67 360.63 L157.67 359.49 L159.75 359.49 L159.75 358.35 L162.25 358.35 L162.25 354.65 L164.75 354.65 L164.75 350.96 L166.62 350.96 L166.62 348.95 L168.50 348.95 L168.50 346.94 L170.38 346.94 L170.38 344.59 L172.25 344.59 L172.25 342.24 L174.33 342.24 L174.33 341.14 L176.42 341.14 L176.42 340.05 L178.50 340.05 L178.50 338.95 L180.58 338.95 L180.58 337.85 L182.67 337.85 L182.67 336.75 L184.75 336.75 L184.75 335.66 L186.62 335.66 L186.62 333.33 L188.50 333.33 L188.50 331.00 L190.38 331.00 L190.38 327.71 L192.25 327.71 L192.25 324.42 L194.75 324.42 L194.75 322.45 L197.25 322.45 L197.25 320.49 L199.31 320.49 L199.31 318.92 L201.38 318.92 L201.38 317.35 L203.44 317.35 L203.44 315.78 L205.50 315.78 L205.50 314.21 L208.12 314.21 L208.12 313.30 L210.75 313.30 L210.75 312.39 L222.00 312.39 L222.00 311.34 L224.50 311.34 L224.50 308.74 L227.00 308.74 L227.00 307.65 L229.50 307.65 L229.50 306.56 L232.00 306.56 L232.00 305.47 L234.50 305.47 L234.50 304.51 L237.00 304.51 L237.00 303.55 L239.50 303.55 L239.50 302.25 L242.00 302.25 L242.00 300.96 L244.50 300.96 L244.50 300.00 L247.00 300.00 L247.00 299.04 L249.50 299.04 L249.50 298.45 L252.00 298.45 L252.00 297.85 L254.08 297.85 L254.08 297.42 L256.17 297.42 L256.17 296.99 L258.25 296.99 L258.25 296.56 L260.75 296.56 L260.75 293.36 L275.75 293.36 L275.75 293.36 L278.25 293.36 L278.25 291.40 L280.75 291.40 L280.75 289.45 L282.94 289.45 L282.94 289.03 L285.12 289.03 L285.12 288.62 L287.31 288.62 L287.31 288.21 L289.50 288.21 L289.50 287.80 L291.50 287.80 L291.50 287.37 L293.50 287.37 L293.50 286.94 L295.50 286.94 L295.50 286.50 L297.50 286.50 L297.50 286.07 L299.50 286.07 L299.50 285.64 L301.40 285.64 L301.40 283.07 L303.68 283.07 L303.68 282.63 L305.97 282.63 L305.97 282.19 L308.25 282.19 L308.25 281.74 L310.44 281.74 L310.44 281.43 L312.62 281.43 L312.62 281.13 L314.81 281.13 L314.81 280.82 L317.00 280.82 L317.00 280.51 L319.00 280.51 L319.00 280.12 L321.00 280.12 L321.00 279.73 L323.00 279.73 L323.00 279.34 L325.00 279.34 L325.00 278.95 L327.00 278.95 L327.00 278.56 L329.50 278.56 L329.50 278.05 L332.00 278.05 L332.00 277.54 L334.50 277.54 L334.50 277.00 L337.00 277.00 L337.00 276.45 L339.50 276.45 L339.50 275.90 L341.58 275.90 L341.58 275.46 L343.67 275.46 L343.67 275.02 L345.75 275.02 L345.75 274.58 L347.94 274.58 L347.94 274.42 L350.12 274.42 L350.12 274.27 L352.31 274.27 L352.31 274.12 L354.50 274.12 L354.50 273.96 L356.58 273.96 L356.58 273.32 L358.67 273.32 L358.67 272.67 L360.75 272.67 L360.75 272.02 L362.93 272.02 L362.93 271.08 L365.10 271.08 L365.10 270.14 L374.50 270.14 L374.50 269.88 L377.00 269.88 L377.00 269.11 L379.50 269.11 L379.50 268.35 L382.00 268.35 L382.00 267.58 L384.08 267.58 L384.08 266.94 L386.17 266.94 L386.17 266.30 L388.25 266.30 L388.25 265.67 L390.33 265.67 L390.33 265.21 L392.42 265.21 L392.42 264.76 L394.50 264.76 L394.50 264.31 L397.00 264.31 L397.00 263.69 L399.50 263.69 L399.50 263.07 L418.25 263.07 L418.25 262.98 L422.00 262.98 L422.00 262.30 L424.50 262.30 L424.50 259.75 L430.75 259.75 L430.75 258.70 L440.00 258.70 L440.00 257.79 L448.25 257.79 L448.25 257.09 L451.40 257.09 L451.40 255.81 L466.00 255.81 L466.00 256.40 L471.10 256.40 L471.10 255.00 L498.00 255.00 L498.00 253.15 L508.00 253.15 L508.00 251.00 L538.00 251.00 L538.00 247.10 L633.60 247.10 L633.60 247.10 L633.60 279.00 L633.60 279.00 L538.00 279.00 L538.00 281.25 L508.00 281.25 L508.00 282.85 L498.00 282.85 L498.00 283.75 L471.10 283.75 L471.10 285.17 L466.00 285.17 L466.00 285.14 L451.40 285.14 L451.40 286.35 L448.25 286.35 L448.25 286.94 L440.00 286.94 L440.00 287.73 L430.75 287.73 L430.75 288.67 L424.50 288.67 L424.50 291.10 L422.00 291.10 L422.00 291.72 L418.25 291.72 L418.25 291.62 L399.50 291.62 L399.50 292.20 L397.00 292.20 L397.00 292.77 L394.50 292.77 L394.50 293.18 L392.42 293.18 L392.42 293.59 L390.33 293.59 L390.33 294.01 L388.25 294.01 L388.25 294.60 L386.17 294.60 L386.17 295.19 L384.08 295.19 L384.08 295.78 L382.00 295.78 L382.00 296.51 L379.50 296.51 L379.50 297.23 L377.00 297.23 L377.00 297.96 L374.50 297.96 L374.50 298.21 L365.10 298.21 L365.10 299.11 L362.93 299.11 L362.93 300.01 L360.75 300.01 L360.75 300.62 L358.67 300.62 L358.67 301.24 L356.58 301.24 L356.58 301.85 L354.50 301.85 L354.50 302.00 L352.31 302.00 L352.31 302.15 L350.12 302.15 L350.12 302.29 L347.94 302.29 L347.94 302.44 L345.75 302.44 L345.75 302.86 L343.67 302.86 L343.67 303.28 L341.58 303.28 L341.58 303.70 L339.50 303.70 L339.50 304.22 L337.00 304.22 L337.00 304.74 L334.50 304.74 L334.50 305.25 L332.00 305.25 L332.00 305.74 L329.50 305.74 L329.50 306.22 L327.00 306.22 L327.00 306.59 L325.00 306.59 L325.00 306.96 L323.00 306.96 L323.00 307.33 L321.00 307.33 L321.00 307.70 L319.00 307.70 L319.00 308.07 L317.00 308.07 L317.00 308.36 L314.81 308.36 L314.81 308.65 L312.62 308.65 L312.62 308.94 L310.44 308.94 L310.44 309.23 L308.25 309.23 L308.25 309.65 L305.97 309.65 L305.97 310.07 L303.68 310.07 L303.68 310.49 L301.40 310.49 L301.40 312.90 L299.50 312.90 L299.50 313.31 L297.50 313.31 L297.50 313.72 L295.50 313.72 L295.50 314.12 L293.50 314.12 L293.50 314.53 L291.50 314.53 L291.50 314.93 L289.50 314.93 L289.50 315.32 L287.31 315.32 L287.31 315.70 L285.12 315.70 L285.12 316.09 L282.94 316.09 L282.94 316.48 L280.75 316.48 L280.75 318.31 L278.25 318.31 L278.25 320.14 L275.75 320.14 L275.75 320.14 L260.75 320.14 L260.75 323.12 L258.25 323.12 L258.25 323.52 L256.17 323.52 L256.17 323.92 L254.08 323.92 L254.08 324.32 L252.00 324.32 L252.00 324.87 L249.50 324.87 L249.50 325.42 L247.00 325.42 L247.00 326.31 L244.50 326.31 L244.50 327.19 L242.00 327.19 L242.00 328.39 L239.50 328.39 L239.50 329.59 L237.00 329.59 L237.00 330.47 L234.50 330.47 L234.50 331.36 L232.00 331.36 L232.00 332.36 L229.50 332.36 L229.50 333.36 L227.00 333.36 L227.00 334.36 L224.50 334.36 L224.50 336.74 L222.00 336.74 L222.00 337.70 L210.75 337.70 L210.75 338.53 L208.12 338.53 L208.12 339.36 L205.50 339.36 L205.50 340.78 L203.44 340.78 L203.44 342.20 L201.38 342.20 L201.38 343.62 L199.31 343.62 L199.31 345.05 L197.25 345.05 L197.25 346.82 L194.75 346.82 L194.75 348.59 L192.25 348.59 L192.25 351.53 L190.38 351.53 L190.38 354.47 L188.50 354.47 L188.50 356.53 L186.62 356.53 L186.62 358.59 L184.75 358.59 L184.75 359.55 L182.67 359.55 L182.67 360.51 L180.58 360.51 L180.58 361.48 L178.50 361.48 L178.50 362.44 L176.42 362.44 L176.42 363.40 L174.33 363.40 L174.33 364.36 L172.25 364.36 L172.25 366.40 L170.38 366.40 L170.38 368.43 L168.50 368.43 L168.50 370.16 L166.62 370.16 L166.62 371.89 L164.75 371.89 L164.75 375.03 L162.25 375.03 L162.25 378.16 L159.75 378.16 L159.75 379.12 L157.67 379.12 L157.67 380.07 L155.58 380.07 L155.58 381.02 L153.50 381.02 L153.50 382.45 L151.00 382.45 L151.00 383.87 L148.50 383.87 L148.50 385.40 L146.63 385.40 L146.63 386.92 L144.77 386.92 L144.77 388.44 L142.90 388.44 L142.90 390.53 L140.85 390.53 L140.85 392.62 L138.80 392.62 L138.80 394.41 L136.75 394.41 L136.75 396.21 L134.70 396.21 L134.70 398.03 L133.00 398.03 L133.00 399.85 L131.30 399.85 L131.30 400.38 L129.25 400.38 L129.25 400.92 L127.20 400.92 L127.20 402.67 L125.10 402.67 L125.10 404.42 L123.00 404.42 L123.00 405.30 L120.90 405.30 L120.90 406.17 L118.80 406.17 L118.80 407.87 L116.75 407.87 L116.75 409.57 L114.70 409.57 L114.70 410.86 L112.60 410.86 L112.60 412.14 L110.50 412.14 L110.50 412.85 L108.57 412.85 L108.57 413.56 L106.63 413.56 L106.63 414.27 L104.70 414.27 L104.70 415.00 L102.47 415.00 L102.47 415.72 L100.23 415.72 L100.23 416.45 L98.00 416.45 L98.00 416.60 L95.83 416.60 L95.83 416.75 L93.67 416.75 L93.67 416.90 L91.50 416.90 Z" fill="#4DAF4A" fill-opacity="0.25" stroke="none"/>
<path d="M63.70 31.55 V435.30 H664.67" fill="none" stroke="#000" stroke-width="1.42" stroke-linecap="butt"/>
<path d="M59.93 416.90 H63.70" stroke="#333" stroke-width="1.42"/>
<text x="57.30" y="421.50" text-anchor="end" class="tk">0%</text>
<path d="M59.93 325.15 H63.70" stroke="#333" stroke-width="1.42"/>
<text x="57.30" y="329.75" text-anchor="end" class="tk">25%</text>
<path d="M59.93 233.40 H63.70" stroke="#333" stroke-width="1.42"/>
<text x="57.30" y="238.00" text-anchor="end" class="tk">50%</text>
<path d="M59.93 141.65 H63.70" stroke="#333" stroke-width="1.42"/>
<text x="57.30" y="146.25" text-anchor="end" class="tk">75%</text>
<path d="M59.93 49.90 H63.70" stroke="#333" stroke-width="1.42"/>
<text x="57.30" y="54.50" text-anchor="end" class="tk">100%</text>
<path d="M90.95 435.30 V438.87" stroke="#333" stroke-width="1.42"/>
<text x="90.35" y="451.30" text-anchor="middle" class="tk">0</text>
<path d="M173.04 435.30 V438.87" stroke="#333" stroke-width="1.42"/>
<text x="172.44" y="451.30" text-anchor="middle" class="tk">500</text>
<path d="M255.12 435.30 V438.87" stroke="#333" stroke-width="1.42"/>
<text x="254.52" y="451.30" text-anchor="middle" class="tk">1000</text>
<path d="M337.21 435.30 V438.87" stroke="#333" stroke-width="1.42"/>
<text x="336.61" y="451.30" text-anchor="middle" class="tk">1500</text>
<path d="M419.29 435.30 V438.87" stroke="#333" stroke-width="1.42"/>
<text x="418.69" y="451.30" text-anchor="middle" class="tk">2000</text>
<path d="M501.38 435.30 V438.87" stroke="#333" stroke-width="1.42"/>
<text x="500.77" y="451.30" text-anchor="middle" class="tk">2500</text>
<path d="M583.46 435.30 V438.87" stroke="#333" stroke-width="1.42"/>
<text x="582.86" y="451.30" text-anchor="middle" class="tk">3000</text>
<text x="365" y="469.8" text-anchor="middle" class="ti">Time-to-event</text>
<text transform="translate(17.8 233.4) rotate(-90)" text-anchor="middle" class="ti">Cumulative incidence (%)</text>
<text x="91.4" y="168.6" class="pv">p &lt; 0.001</text>
<text x="526.7" y="79.8" class="lt">Strata</text>
<rect x="527.85" y="90.15" width="21.1" height="21.1" fill="#E41A1C" fill-opacity="0.25"/>
<path d="M529.90 100.70 H547.80" stroke="#E41A1C" stroke-width="2.10"/>
<text x="558.1" y="104.90" class="lg">rx=Obs</text>
<rect x="527.85" y="113.10" width="21.1" height="21.1" fill="#377EB8" fill-opacity="0.25"/>
<path d="M529.90 123.65 H547.80" stroke="#377EB8" stroke-width="2.10"/>
<text x="558.1" y="127.85" class="lg">rx=Lev</text>
<rect x="527.85" y="136.05" width="21.1" height="21.1" fill="#4DAF4A" fill-opacity="0.25"/>
<path d="M529.90 146.60 H547.80" stroke="#4DAF4A" stroke-width="2.10"/>
<text x="558.1" y="150.80" class="lg">rx=Lev+5FU</text>
</svg>
</body></html>
